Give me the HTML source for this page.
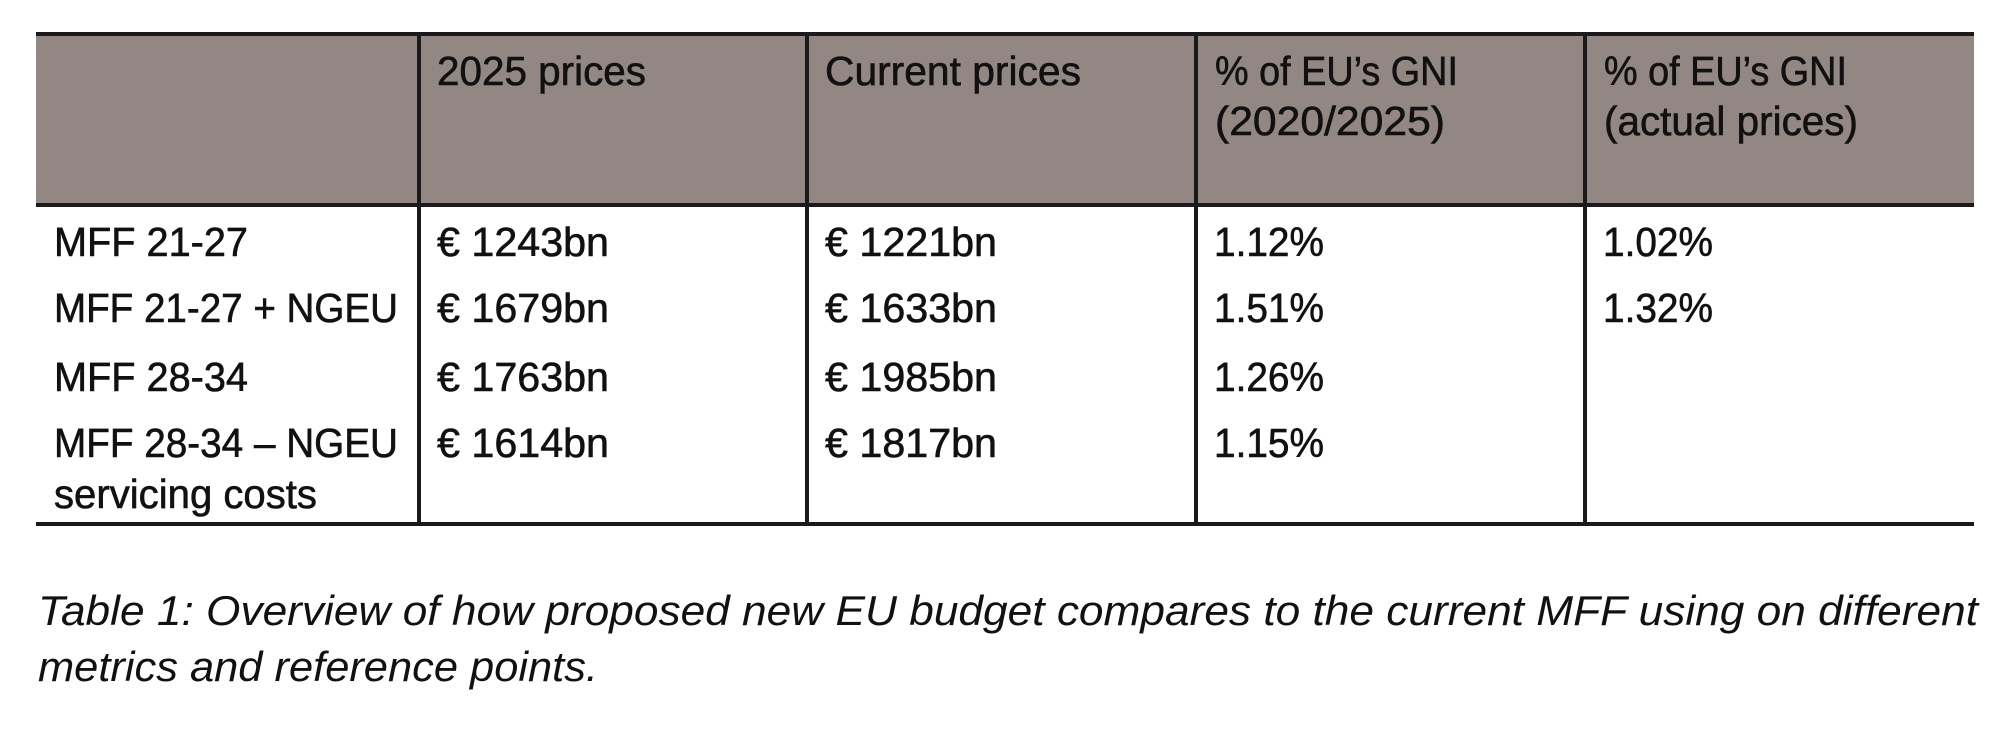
<!DOCTYPE html>
<html><head><meta charset="utf-8"><style>
html,body{margin:0;padding:0;background:#fff;}
svg{display:block;}
text{font-family:"Liberation Sans",sans-serif;fill:#111;}
</style></head><body>
<svg width="2000" height="741" viewBox="0 0 2000 741" xmlns="http://www.w3.org/2000/svg">
<rect x="36" y="34" width="1938" height="171" fill="#928782"/>
<g stroke="#1a1a1a" stroke-width="4">
<line x1="36" y1="34" x2="1974" y2="34"/>
<line x1="36" y1="205" x2="1974" y2="205"/>
<line x1="36" y1="524" x2="1974" y2="524"/>
<line x1="419" y1="34" x2="419" y2="524"/>
<line x1="807" y1="34" x2="807" y2="524"/>
<line x1="1196" y1="34" x2="1196" y2="524"/>
<line x1="1585" y1="34" x2="1585" y2="524"/>
</g>
<g font-size="41" stroke="#111" stroke-width="0.6">
<text x="437" y="85" textLength="209" lengthAdjust="spacingAndGlyphs">2025 prices</text>
<text x="825" y="85" textLength="256" lengthAdjust="spacingAndGlyphs">Current prices</text>
<text x="1215" y="85" textLength="243" lengthAdjust="spacingAndGlyphs">% of EU’s GNI</text>
<text x="1215" y="135" textLength="230" lengthAdjust="spacingAndGlyphs">(2020/2025)</text>
<text x="1604" y="85" textLength="243" lengthAdjust="spacingAndGlyphs">% of EU’s GNI</text>
<text x="1604" y="135" textLength="254" lengthAdjust="spacingAndGlyphs">(actual prices)</text>

<text x="54" y="256" textLength="194" lengthAdjust="spacingAndGlyphs">MFF 21-27</text>
<text x="54" y="322" textLength="344" lengthAdjust="spacingAndGlyphs">MFF 21-27 + NGEU</text>
<text x="54" y="391" textLength="194" lengthAdjust="spacingAndGlyphs">MFF 28-34</text>
<text x="54" y="457" textLength="344" lengthAdjust="spacingAndGlyphs">MFF 28-34 – NGEU</text>
<text x="54" y="508" textLength="263" lengthAdjust="spacingAndGlyphs">servicing costs</text>

<text x="437" y="256" textLength="172" lengthAdjust="spacingAndGlyphs">€ 1243bn</text>
<text x="437" y="322" textLength="172" lengthAdjust="spacingAndGlyphs">€ 1679bn</text>
<text x="437" y="391" textLength="172" lengthAdjust="spacingAndGlyphs">€ 1763bn</text>
<text x="437" y="457" textLength="172" lengthAdjust="spacingAndGlyphs">€ 1614bn</text>

<text x="825" y="256" textLength="172" lengthAdjust="spacingAndGlyphs">€ 1221bn</text>
<text x="825" y="322" textLength="172" lengthAdjust="spacingAndGlyphs">€ 1633bn</text>
<text x="825" y="391" textLength="172" lengthAdjust="spacingAndGlyphs">€ 1985bn</text>
<text x="825" y="457" textLength="172" lengthAdjust="spacingAndGlyphs">€ 1817bn</text>

<text x="1214" y="256" textLength="110" lengthAdjust="spacingAndGlyphs">1.12%</text>
<text x="1214" y="322" textLength="110" lengthAdjust="spacingAndGlyphs">1.51%</text>
<text x="1214" y="391" textLength="110" lengthAdjust="spacingAndGlyphs">1.26%</text>
<text x="1214" y="457" textLength="110" lengthAdjust="spacingAndGlyphs">1.15%</text>

<text x="1603" y="256" textLength="110" lengthAdjust="spacingAndGlyphs">1.02%</text>
<text x="1603" y="322" textLength="110" lengthAdjust="spacingAndGlyphs">1.32%</text>
</g>
<g font-size="42" font-style="italic">
<text x="38" y="625" fill="#222" textLength="1940" lengthAdjust="spacingAndGlyphs">Table 1: Overview of how proposed new EU budget compares to the current MFF using on different</text>
<text x="38" y="681" fill="#222" textLength="560" lengthAdjust="spacingAndGlyphs">metrics and reference points.</text>
</g>
</svg>
</body></html>
